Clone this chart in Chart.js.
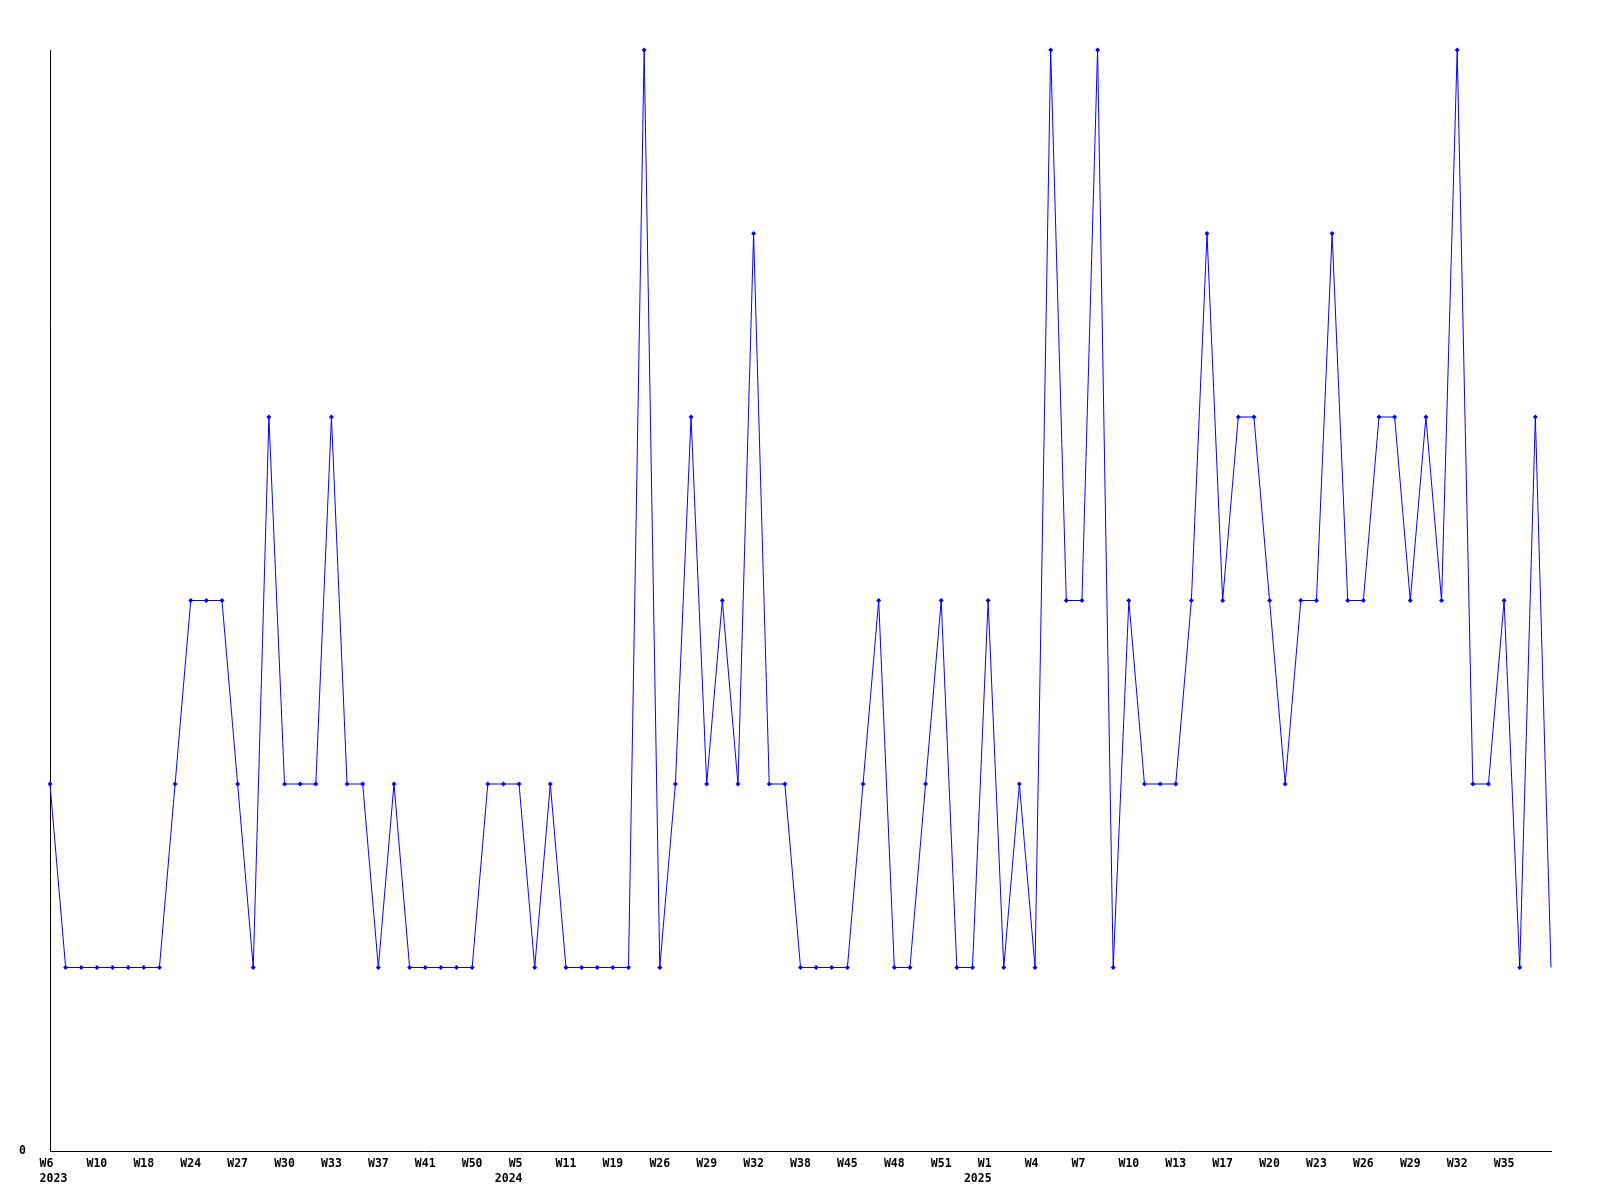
<!DOCTYPE html>
<html>
<head>
<meta charset="utf-8">
<script src="https://cdn.jsdelivr.net/npm/chart.js@4/dist/chart.umd.min.js"></script>
<style>
  html, body { margin: 0; padding: 0; background: #fff; }
  #wrap { width: 1600px; height: 1200px; }
</style>
</head>
<body>
<div id="wrap"><canvas id="weeklyChart" width="1600" height="1200"></canvas></div>
<script>
// one value per week with activity
const values = [
  2, 1, 1, 1, 1, 1, 1, 1, 2, 3, 3, 3, 2, 1, 4, 2, 2, 2, 4, 2,
  2, 1, 2, 1, 1, 1, 1, 1, 2, 2, 2, 1, 2, 1, 1, 1, 1, 1, 6, 1,
  2, 4, 2, 3, 2, 5, 2, 2, 1, 1, 1, 1, 2, 3, 1, 1, 2, 3, 1, 1,
  3, 1, 2, 1, 6, 3, 3, 6, 1, 3, 2, 2, 2, 3, 5, 3, 4, 4, 3, 2,
  3, 3, 5, 3, 3, 4, 4, 3, 4, 3, 6, 2, 2, 3, 1, 4, 1
];

// week labels shown under every third point
const tickLabels = [
  'W6', 'W10', 'W18', 'W24', 'W27', 'W30', 'W33', 'W37', 'W41', 'W50',
  'W5', 'W11', 'W19', 'W26', 'W29', 'W32', 'W38', 'W45', 'W48', 'W51',
  'W1', 'W4', 'W7', 'W10', 'W13', 'W17', 'W20', 'W23', 'W26', 'W29',
  'W32', 'W35'
];
// year printed under the label where a new year starts (label index)
const yearLabels = { 0: '2023', 10: '2024', 20: '2025' };
const labelEvery = 3;

const yTicks = [0];

const categories = values.map((v, i) => {
    if (i % labelEvery !== 0) return '';
    const k = i / labelEvery;
    if (tickLabels[k] === undefined) return '';
    // week text is left aligned in a 3-char slot, like the original renderer
    const week = tickLabels[k].padEnd(3, ' ');
    if (yearLabels[k] === undefined) return week;
    const year = k === 0 ? ' ' + yearLabels[k] : yearLabels[k] + '   ';
    return [week, year];
});

const monoFont = { family: '"DejaVu Sans Mono", monospace', size: 11.5, weight: 'bold', lineHeight: 1.35 };

new Chart(document.getElementById('weeklyChart'), {
    type: 'line',
    data: {
        labels: categories,
        datasets: [{
            data: values,
            borderColor: '#0000ff',
            backgroundColor: '#0000ff',
            borderWidth: 1,
            tension: 0,
            fill: false,
            clip: false,
            pointStyle: 'rectRot',
            pointRadius: ctx => ctx.dataIndex === values.length - 1 ? 0 : 2.5,
            pointBorderWidth: 0,
            pointBackgroundColor: '#0000ff'
        }]
    },
    options: {
        responsive: false,
        animation: false,
        layout: { padding: { top: 50, right: 49, left: 0, bottom: 0 } },
        plugins: {
            legend: { display: false },
            tooltip: { enabled: false }
        },
        scales: {
            x: {
                offset: false,
                grid: { display: false, drawTicks: false },
                border: { display: true, color: '#000', width: 1 },
                ticks: {
                    autoSkip: false,
                    maxRotation: 0,
                    minRotation: 0,
                    padding: 5,
                    color: '#000',
                    font: monoFont
                },
                afterFit: scale => { scale.height = 49; }
            },
            y: {
                min: 0,
                max: 6,
                grid: { display: false, drawTicks: false },
                border: { display: true, color: '#000', width: 1 },
                ticks: {
                    stepSize: 1,
                    padding: 24,
                    color: '#000',
                    font: monoFont,
                    callback: v => yTicks.includes(v) ? String(v) : ''
                },
                afterFit: scale => { scale.width = 50; }
            }
        }
    }
});
</script>
</body>
</html>
